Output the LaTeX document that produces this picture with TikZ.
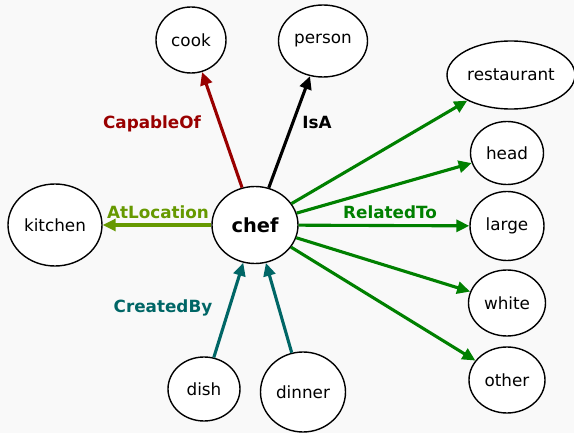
\documentclass[tikz,border=0pt]{standalone}
\usepackage{fontspec}
\setmainfont{DejaVu Sans}
\usetikzlibrary{shapes.geometric,arrows.meta}
\definecolor{bgcol}{HTML}{F9F9F9}
\definecolor{capcol}{HTML}{990000}
\definecolor{loccol}{HTML}{669900}
\definecolor{relcol}{HTML}{008000}
\definecolor{crecol}{HTML}{006666}
\begin{document}
\begin{tikzpicture}[x=1pt,y=-1pt,
  concept/.style={ellipse,draw=black,line width=1.4pt,fill=white,inner sep=0pt,
    font=\fontsize{16.8}{20}\selectfont},
  rel/.style={line width=3.1pt,-{Triangle[length=13pt,width=12pt]}},
  lab/.style={font=\bfseries\fontsize{16.8}{20}\selectfont}]
\fill[bgcol] (0,0) rectangle (574,433);
\useasboundingbox (0,0) rectangle (574,433);
% nodes
\node[concept,minimum width=86pt,minimum height=77pt,font=\bfseries\fontsize{19.4}{23}\selectfont] (chef) at (255,225) {chef};
\node[concept,minimum width=70pt,minimum height=66pt] (cook) at (191,40) {cook};
\node[concept,minimum width=89pt,minimum height=72pt] (person) at (323,41) {person};
\node[concept,minimum width=128pt,minimum height=68pt] (restaurant) at (511,75) {restaurant};
\node[concept,minimum width=73pt,minimum height=63pt] (head) at (507,153) {head};
\node[concept,minimum width=74pt,minimum height=69pt] (large) at (507,226) {large};
\node[concept,minimum width=77pt,minimum height=66pt] (white) at (507,303) {white};
\node[concept,minimum width=76pt,minimum height=66pt] (other) at (507,380) {other};
\node[concept,minimum width=94pt,minimum height=82pt] (kitchen) at (55,225) {kitchen};
\node[concept,minimum width=72pt,minimum height=64pt] (dish) at (204,389) {dish};
\node[concept,minimum width=85pt,minimum height=80pt] (dinner) at (303,392) {dinner};
% edges
\draw[rel,capcol] (chef) -- (cook);
\draw[rel,black] (chef) -- (person);
\draw[rel,loccol] (chef) -- (kitchen);
\draw[rel,relcol] (chef) -- (restaurant);
\draw[rel,relcol] (chef) -- (head);
\draw[rel,relcol] (chef) -- (large);
\draw[rel,relcol] (chef) -- (white);
\draw[rel,relcol] (chef) -- (other);
\draw[rel,crecol] (dish) -- (chef);
\draw[rel,crecol] (dinner) -- (chef);
% labels
\node[lab,text=capcol] (lcap) at (152,124) {CapableOf};
\node[lab,text=black] (lisa) at (317,122) {IsA};
\node[lab,text=loccol] (lloc) at (158,212) {AtLocation};
\node[lab,text=relcol] (lrel) at (390,212) {RelatedTo};
\node[lab,text=crecol] (lcre) at (163,308) {CreatedBy};
\end{tikzpicture}
\end{document}
